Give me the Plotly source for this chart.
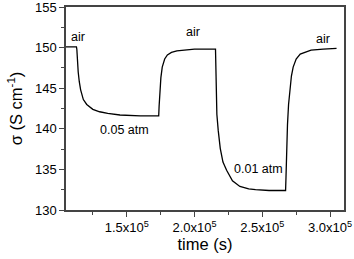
import plotly.graph_objects as go

time_s = [1.052e5, 1.09e5, 1.129e5, 1.132e5, 1.135e5, 1.142e5, 1.150e5, 1.160e5, 1.18e5, 1.205e5,
          1.25e5, 1.30e5, 1.36e5, 1.45e5, 1.60e5, 1.736e5,
          1.739e5, 1.741e5, 1.745e5, 1.752e5, 1.762e5, 1.78e5, 1.80e5, 1.83e5, 1.87e5, 1.93e5,
          2.00e5, 2.155e5,
          2.157e5, 2.160e5, 2.165e5, 2.175e5, 2.19e5, 2.21e5, 2.237e5, 2.28e5, 2.335e5, 2.40e5,
          2.45e5, 2.55e5, 2.672e5,
          2.675e5, 2.677e5, 2.680e5, 2.686e5, 2.694e5, 2.704e5, 2.715e5, 2.728e5, 2.75e5, 2.78e5,
          2.82e5, 2.86e5, 2.95e5, 3.048e5]
sigma = [150.1, 150.1, 150.1, 149.8, 148.5, 147.0, 145.8, 144.8, 143.6, 143.0,
         142.4, 142.1, 141.9, 141.7, 141.6, 141.6,
         142.8, 143.6, 144.8, 146.3, 147.6, 148.6, 149.1, 149.4, 149.6, 149.7,
         149.8, 149.8,
         147.5, 144.5, 141.8, 139.8, 137.6, 135.9, 134.9, 133.6, 132.9, 132.6,
         132.5, 132.4, 132.4,
         134.0, 135.5, 137.5, 140.5, 143.0, 144.8, 146.5, 147.6, 148.6, 149.2,
         149.5, 149.7, 149.8, 149.9]

label_text = ["air", "0.05 atm", "air", "0.01 atm", "air"]
label_x = [1.143e5, 1.48e5, 1.991e5, 2.47e5, 2.95e5]
label_y = [151.3, 139.85, 151.9, 135.05, 151.0]

x_tickvals = [1.5e5, 2.0e5, 2.5e5, 3.0e5]
x_ticktext = ["1.5x10<sup>5</sup>", "2.0x10<sup>5</sup>", "2.5x10<sup>5</sup>", "3.0x10<sup>5</sup>"]
y_tickvals = [130, 135, 140, 145, 150, 155]

font = "Liberation Sans, Arial, sans-serif"

fig = go.Figure()
fig.add_trace(go.Scatter(x=time_s, y=sigma, mode="lines",
                         line=dict(color="black", width=1.3), showlegend=False))

for t, x, y in zip(label_text, label_x, label_y):
    fig.add_annotation(x=x, y=y, text=t, showarrow=False,
                       font=dict(family=font, size=12.5, color="black"))

axis_common = dict(showline=True, linecolor="#444", linewidth=1.5, mirror=True,
                   showgrid=False, zeroline=False, ticks="outside", tickwidth=1.2,
                   tickcolor="#444", ticklen=5, automargin=False,
                   ticklabeloverflow="allow",
                   tickfont=dict(family=font, size=13, color="black"))

fig.update_xaxes(range=[1.052e5, 3.103e5], tickvals=x_tickvals, ticktext=x_ticktext,
                 minor=dict(dtick=0.25e5, tick0=1.5e5, ticks="outside", ticklen=3,
                            tickcolor="#444", tickwidth=1),
                 title=dict(text="time (s)", font=dict(family=font, size=16.5, color="black"),
                            standoff=2),
                 **axis_common)
fig.update_yaxes(range=[130, 155], tickvals=y_tickvals,
                 minor=dict(dtick=2.5, tick0=130, ticks="outside", ticklen=3,
                            tickcolor="#444", tickwidth=1),
                 title=dict(text="σ (S cm<sup>-1</sup>)",
                            font=dict(family=font, size=16.5, color="black"), standoff=8),
                 **axis_common)

fig.update_layout(width=354, height=259, margin=dict(l=66, r=10, t=7, b=49),
                  plot_bgcolor="white", paper_bgcolor="white")

fig.write_html("out.html", config={"displayModeBar": False},
               post_script="document.body.style.margin='0';document.body.style.overflow='hidden';")
